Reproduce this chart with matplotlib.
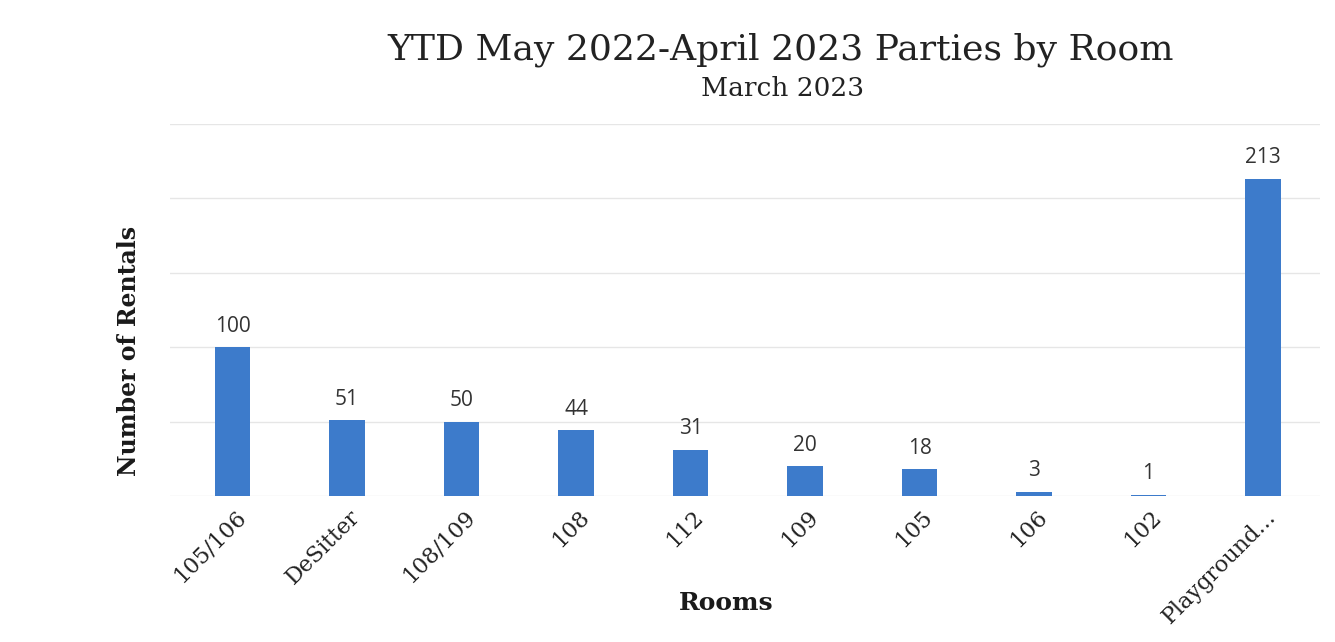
import matplotlib
matplotlib.use('Agg')
import matplotlib.pyplot as plt
import matplotlib.transforms as mtransforms

rooms = ['105/106', 'DeSitter', '108/109', '108', '112', '109', '105', '106', '102', 'Playground...']
rentals = [100, 51, 50, 44, 31, 20, 18, 3, 1, 213]

bar_color = '#3d7bcb'
serif = 'DejaVu Serif'
sans = 'Open Sans'


def main():
    fig = plt.figure(figsize=(13.35, 6.42), dpi=100)
    ax = fig.add_axes([0.127, 0.2274, 0.862, 0.58])

    x = range(len(rooms))
    bars = ax.bar(x, rentals, width=0.31, color=bar_color, zorder=3)

    # data labels above each bar
    for b, v in zip(bars, rentals):
        ax.text(b.get_x() + b.get_width() / 2, v + 7, str(v),
                ha='center', va='bottom', fontsize=15, family=sans, color='#333333')

    ax.set_xlim(-0.55, 9.5)
    ax.set_ylim(0, 250)
    ax.set_yticks([0, 50, 100, 150, 200, 250])
    ax.set_yticklabels([])
    ax.tick_params(axis='y', length=0)
    ax.tick_params(axis='x', length=0, pad=7)
    ax.grid(axis='y', color='#e6e6e6', linewidth=1, zorder=0)
    for s in ax.spines.values():
        s.set_visible(False)

    ax.set_xticks(list(x))
    ax.set_xticklabels(rooms, rotation=45, ha='right', rotation_mode='anchor',
                       fontsize=16, family=serif, color='#222222')
    shift = mtransforms.ScaledTranslation(2 / 100, 0, fig.dpi_scale_trans)
    for lab in ax.get_xticklabels():
        lab.set_transform(lab.get_transform() + shift)

    ax.set_ylabel('Number of Rentals', family=serif, fontweight='bold',
                  fontsize=17, color='#1a1a1a')
    ax.yaxis.set_label_coords(-0.025, 0.39)
    ax.set_xlabel('Rooms', family=serif, fontweight='bold', fontsize=18,
                  color='#1a1a1a')
    ax.xaxis.set_label_coords(0.484, -0.255)

    fig.text(0.585, 0.922, 'YTD May 2022-April 2023 Parties by Room', ha='center',
             va='center', family=serif, fontsize=26, color='#222222')
    fig.text(0.586, 0.862, 'March 2023', ha='center', va='center',
             family=serif, fontsize=19, color='#222222')

    fig.savefig('out.png', dpi=100)


if __name__ == '__main__':
    main()
